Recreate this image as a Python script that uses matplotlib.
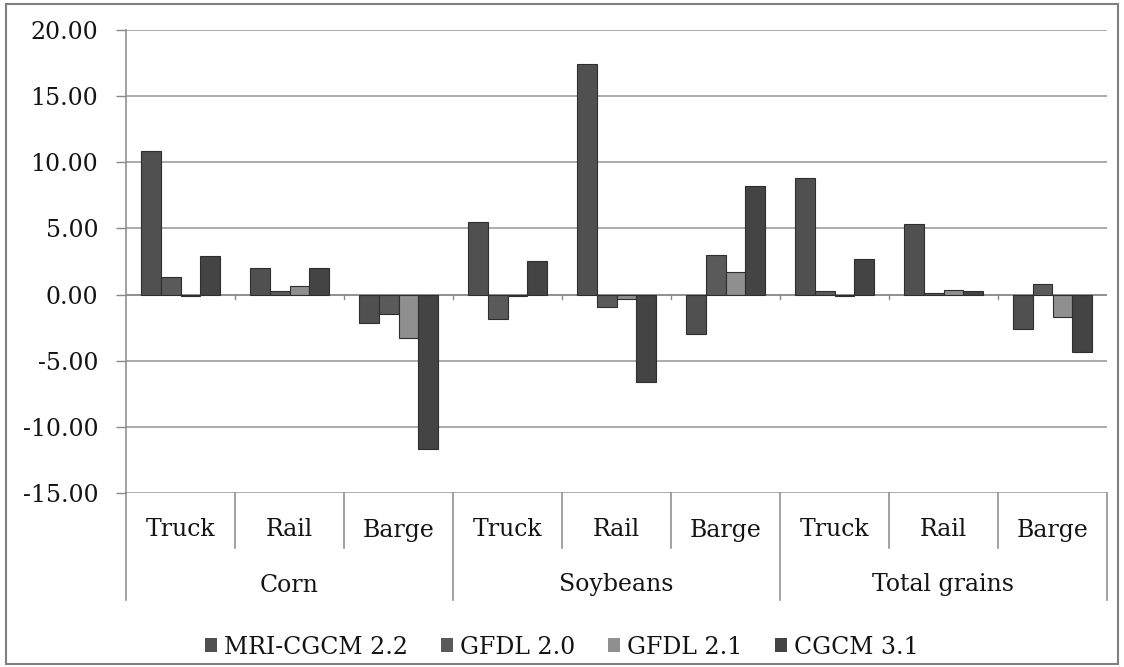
import matplotlib
matplotlib.use("Agg")
import matplotlib.pyplot as plt
from matplotlib.patches import Rectangle, Patch
from matplotlib.lines import Line2D
from matplotlib.transforms import blended_transform_factory
import numpy as np

groups = ["Corn", "Soybeans", "Total grains"]
modes = ["Truck", "Rail", "Barge"]
series_names = ["MRI-CGCM 2.2", "GFDL 2.0", "GFDL 2.1", "CGCM 3.1"]

mri_cgcm_22 = [10.86, 2.02, -2.15, 5.52, 17.45, -2.99, 8.84, 5.30, -2.59]
gfdl_20 = [1.34, 0.28, -1.47, -1.88, -0.93, 2.99, 0.30, 0.10, 0.83]
gfdl_21 = [-0.10, 0.68, -3.28, -0.10, -0.30, 1.71, -0.10, 0.38, -1.71]
cgcm_31 = [2.90, 2.02, -11.67, 2.51, -6.58, 8.21, 2.71, 0.30, -4.32]

yticks = [20, 15, 10, 5, 0, -5, -10, -15]

colors = ["#505050", "#5a5a5a", "#8f8f8f", "#444444"]

plt.rcParams["font.family"] = ["DejaVu Serif"]
FS = 17
TXT = "#141414"

W, H = 1124, 667
fig = plt.figure(figsize=(W / 100, H / 100), dpi=100)

x0, x1 = 126, 1107
ytop, ybot = 30, 493
ax = fig.add_axes([x0 / W, 1 - ybot / H, (x1 - x0) / W, (ybot - ytop) / H])

ncat = len(groups) * len(modes)
x = np.arange(ncat)
bw = 0.183
all_series = [mri_cgcm_22, gfdl_20, gfdl_21, cgcm_31]
for i, (vals, c, name) in enumerate(zip(all_series, colors, series_names)):
    ax.bar(x + (i - 1.5) * bw, vals, width=bw, color=c, edgecolor="#2e2e2e",
           linewidth=0.8, label=name, zorder=3)

ax.set_xlim(-0.5, ncat - 0.5)
ax.set_ylim(-15, 20)
ax.set_yticks(yticks)
ax.set_yticklabels([f"{v:.2f}" for v in yticks], fontsize=FS, color=TXT)
ax.tick_params(axis="y", length=7, width=1, color="#888888", pad=13)
ax.yaxis.grid(True, color="#959595", linewidth=1.1, zorder=0)
ax.set_xticks([])
for s in ["top", "right", "bottom"]:
    ax.spines[s].set_visible(False)
ax.spines["left"].set_color("#888888")
ax.spines["left"].set_linewidth(1.1)

# zero axis line with small ticks
ax.axhline(0, color="#8a8a8a", linewidth=1.1, zorder=2)
for b in range(1, ncat):
    ax.plot([b - 0.5, b - 0.5], [0, -0.35], color="#888888", lw=1, zorder=2,
            clip_on=False)

def yfig(py):
    return 1 - py / H

bt = blended_transform_factory(ax.transData, fig.transFigure)
for k in range(ncat + 1):
    xb = k - 0.5
    yb = 600 if k % 3 == 0 else 548
    fig.add_artist(Line2D([xb, xb], [yfig(ybot), yfig(yb)], transform=bt,
                          color="#888888", lw=1.1))
for k in range(ncat):
    fig.text(k, yfig(530), modes[k % 3], transform=bt, ha="center",
             va="center", fontsize=FS, color=TXT)
for g, name in enumerate(groups):
    fig.text(g * 3 + 1, yfig(585), name, transform=bt, ha="center",
             va="center", fontsize=FS, color=TXT)

handles = [Patch(facecolor=c, edgecolor="none") for c in colors]
leg = fig.legend(handles, series_names, loc="center",
                 bbox_to_anchor=(0.5, yfig(647)), ncol=4, frameon=False,
                 fontsize=FS, handlelength=0.5, handleheight=0.5,
                 handletextpad=0.3, columnspacing=1.4)
for t in leg.get_texts():
    t.set_color(TXT)

fig.add_artist(Rectangle((6 / W, 3 / H), (W - 12) / W, (H - 7) / H,
                         transform=fig.transFigure, fill=False,
                         edgecolor="#808080", linewidth=1.5))

fig.savefig("out.png", dpi=100, facecolor="white")
